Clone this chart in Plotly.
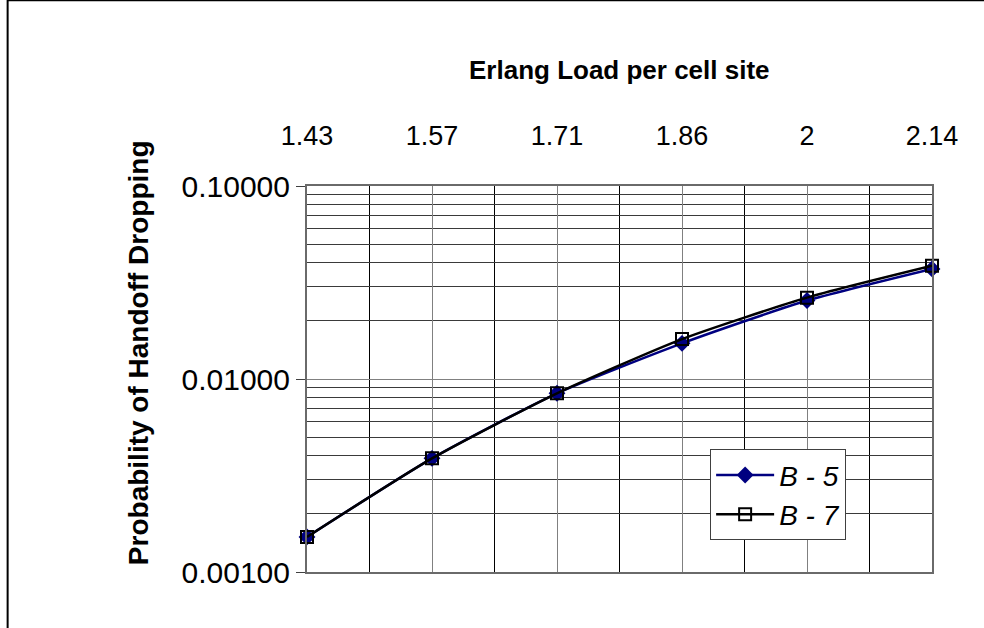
import plotly.graph_objects as go

# Erlang load per cell site (category axis labels)
loads = ["1.43", "1.57", "1.71", "1.86", "2", "2.14"]

# Probability of handoff dropping for each scheme
b5 = [0.00152, 0.00388, 0.00843, 0.0153, 0.0255, 0.0372]
b7 = [0.00152, 0.00388, 0.00843, 0.0161, 0.0264, 0.0386]

# decade tick values on the probability axis
y_ticks = [0.001, 0.01, 0.1]

FONT = "Arial, Liberation Sans, sans-serif"

idx = list(range(len(loads)))

fig = go.Figure()

fig.add_trace(go.Scatter(
    x=idx, y=b5, name="B - 5", mode="lines+markers",
    line=dict(color="#000080", width=2.5, shape="spline", smoothing=0.6),
    marker=dict(symbol="diamond", size=13, color="#000080"),
    cliponaxis=False,
))
fig.add_trace(go.Scatter(
    x=idx, y=b7, name="B - 7", mode="lines+markers",
    line=dict(color="#000000", width=2.5, shape="spline", smoothing=0.6),
    marker=dict(symbol="square-open", size=12, color="#000000",
                line=dict(width=2, color="#000000")),
    cliponaxis=False,
))

# minor log gridlines (2..9 within each decade)
minor_y = [m * d for d in (0.001, 0.01) for m in range(2, 10)]
# gridlines halfway between categories
mid_x = [i + 0.5 for i in idx[:-1]]

fig.update_layout(
    width=984, height=628,
    margin=dict(l=307, r=52, t=186, b=56),
    paper_bgcolor="white", plot_bgcolor="white",
    showlegend=True,
    legend=dict(
        x=0.645, y=0.318, xanchor="left", yanchor="top",
        bgcolor="white", bordercolor="#404040", borderwidth=1,
        font=dict(family=FONT, size=28, color="black", style="italic"),
        itemwidth=58, tracegroupgap=0,
    ),
    xaxis=dict(
        range=[0, len(loads) - 1], side="top",
        tickmode="array", tickvals=idx, ticktext=loads,
        tickfont=dict(family=FONT, size=27, color="black"),
        ticks="", ticklabelstandoff=28,
        showgrid=True, gridcolor="#808080", gridwidth=1,
        minor=dict(tickmode="array", tickvals=mid_x, showgrid=True,
                   gridcolor="#000000", gridwidth=1, ticks=""),
        zeroline=False,
        showline=True, mirror=True, linecolor="#6a6a6a", linewidth=2,
    ),
    yaxis=dict(
        type="log", range=[-3, -1],
        tickmode="array", tickvals=y_ticks, tickformat=".5f",
        tickfont=dict(family=FONT, size=30, color="black"),
        ticks="outside", ticklen=9, tickcolor="#404040", tickwidth=1,
        showgrid=True, gridcolor="#808080", gridwidth=1,
        minor=dict(tickmode="array", tickvals=minor_y, showgrid=True,
                   gridcolor="#3a3a3a", gridwidth=1, ticks=""),
        zeroline=False,
        showline=True, mirror=True, linecolor="#6a6a6a", linewidth=2,
    ),
    annotations=[
        dict(text="<b>Erlang Load per cell site</b>", xref="paper", yref="paper",
             x=0.5, y=1.3, xanchor="center", yanchor="middle", showarrow=False,
             font=dict(family=FONT, size=26, color="black")),
        dict(text="<b>Probability of Handoff Dropping</b>", xref="paper", yref="paper",
             x=-0.2704, y=0.567, xanchor="center", yanchor="middle", textangle=-90,
             showarrow=False, font=dict(family=FONT, size=28, color="black")),
    ],
    shapes=[
        # chart-area frame
        dict(type="rect", xref="paper", yref="paper",
             x0=-0.479, x1=1.2, y0=-0.4, y1=1.481,
             line=dict(color="black", width=2), fillcolor="rgba(0,0,0,0)",
             layer="above"),
    ],
)

fig.write_html("out.html")
